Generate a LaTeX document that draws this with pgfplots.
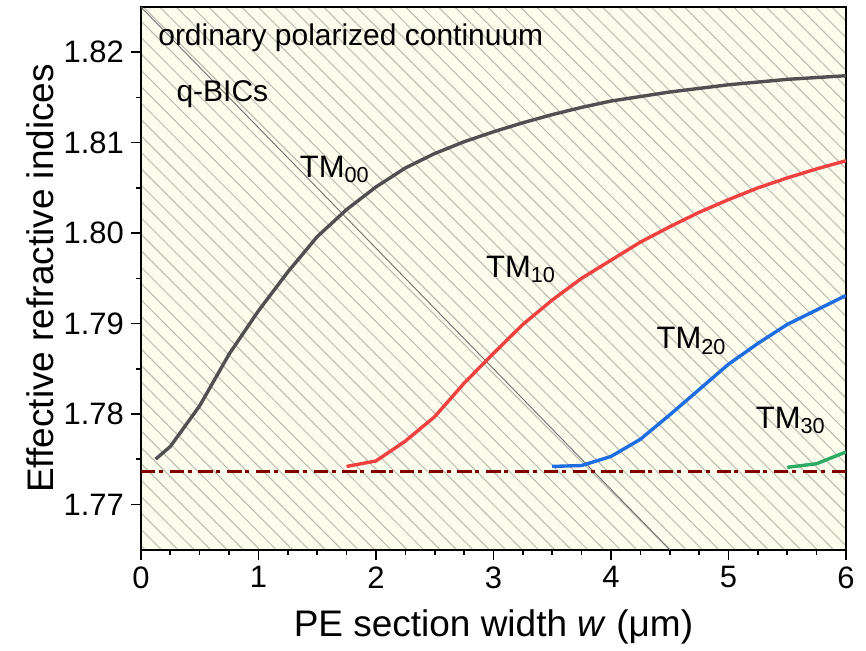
\documentclass[border=0pt]{standalone}
\usepackage{fontspec}
\setmainfont{Liberation Sans}
\usepackage{pgfplots}
\pgfplotsset{compat=1.18}
\usetikzlibrary{patterns.meta}
\definecolor{bgcol}{RGB}{253,253,238}
\definecolor{hatchcol}{RGB}{185,185,175}
\definecolor{qbiccol}{RGB}{110,110,110}
\definecolor{tmzero}{RGB}{80,80,80}
\definecolor{tmone}{RGB}{240,65,65}
\definecolor{tmtwo}{RGB}{30,110,225}
\definecolor{tmthree}{RGB}{45,170,100}
\definecolor{cutcol}{RGB}{128,0,0}
\begin{document}
\begin{tikzpicture}
\begin{axis}[
  scale only axis, width=352.8pt, height=271.5pt,
  xmin=0, xmax=6, ymin=1.765, ymax=1.825,
  xtick={0,1,2,3,4,5,6}, minor x tick num=3,
  ytick={1.77,1.78,1.79,1.80,1.81,1.82}, minor y tick num=1,
  tick align=outside, xtick pos=bottom, ytick pos=left,
  major tick length=5pt, minor tick length=2.5pt,
  every tick/.style={black, line width=0.8pt},
  axis line style={line width=0.9pt},
  tick label style={font=\fontsize{15.5}{18}\selectfont},
  /pgf/number format/assume math mode=true,
  yticklabel style={/pgf/number format/.cd, fixed, fixed zerofill, precision=2},
  xlabel={PE section width \textit{w} (μm)},
  ylabel={Effective refractive indices},
  label style={font=\fontsize{18.5}{22}\selectfont},
  xlabel style={at={(axis description cs:0.5,-0.142)}, anchor=center},
  ylabel style={at={(axis description cs:-0.143,0.5)}, anchor=center},
  axis background/.style={fill=bgcol, postaction={pattern={Lines[angle=-45,distance=5.8pt,line width=0.5pt]}, pattern color=hatchcol}},
  clip=true,
]
\addplot[qbiccol, line width=0.45pt] coordinates {(0,1.825) (4.5,1.765)};
\addplot[cutcol, line width=1.6pt, dash pattern=on 7.2pt off 1.8pt on 2pt off 3.4pt] coordinates {(0,1.7736) (6,1.7736)};
\addplot[tmzero, line width=1.7pt] coordinates {
(0.125,1.7750) (0.25,1.7764) (0.5,1.7809) (0.75,1.7866) (1.0,1.7914)
(1.25,1.7957) (1.5,1.7996) (1.75,1.8026) (2.0,1.8051) (2.25,1.8072)
(2.5,1.8088) (2.75,1.8101) (3.0,1.8112) (3.25,1.8122) (3.5,1.8131)
(3.75,1.8139) (4.0,1.8146) (4.25,1.8151) (4.5,1.8156) (4.75,1.8160)
(5.0,1.8164) (5.25,1.8167) (5.5,1.8170) (5.75,1.8172) (6.0,1.8174)};
\addplot[tmone, line width=1.7pt] coordinates {
(1.75,1.7742) (2.0,1.7748) (2.25,1.7770) (2.5,1.7797) (2.75,1.7834)
(3.0,1.7867) (3.25,1.7899) (3.5,1.7926) (3.75,1.7950) (4.0,1.7970)
(4.25,1.7990) (4.5,1.8007) (4.75,1.8023) (5.0,1.8037) (5.25,1.8050)
(5.5,1.8061) (5.75,1.8071) (6.0,1.8080)};
\addplot[tmtwo, line width=1.7pt] coordinates {
(3.5,1.7742) (3.75,1.7743) (4.0,1.7753) (4.25,1.7772) (4.5,1.7799)
(4.75,1.7827) (5.0,1.7855) (5.25,1.7878) (5.5,1.7899) (5.75,1.7915)
(6.0,1.7931)};
\addplot[tmthree, line width=1.7pt] coordinates {
(5.5,1.7741) (5.75,1.7745) (6.0,1.7758)};
\node[anchor=base west, inner sep=0pt, font=\fontsize{15}{18}\selectfont] at (axis cs:0.145,1.8207) {ordinary polarized continuum};
\node[anchor=base west, inner sep=0pt, font=\fontsize{15}{18}\selectfont] at (axis cs:0.30,1.8145) {q-BICs};
\node[anchor=base west, inner sep=0pt, font=\fontsize{15.5}{18}\selectfont] at (axis cs:1.35,1.8062) {TM\textsubscript{00}};
\node[anchor=base west, inner sep=0pt, font=\fontsize{15.5}{18}\selectfont] at (axis cs:2.934,1.7951) {TM\textsubscript{10}};
\node[anchor=base west, inner sep=0pt, font=\fontsize{15.5}{18}\selectfont] at (axis cs:4.385,1.7872) {TM\textsubscript{20}};
\node[anchor=base west, inner sep=0pt, font=\fontsize{15.5}{18}\selectfont] at (axis cs:5.23,1.7784) {TM\textsubscript{30}};
\end{axis}
\path ([xshift=-70.5pt,yshift=-48pt]current axis.south west) rectangle ([xshift=10pt,yshift=3.5pt]current axis.north east);
\end{tikzpicture}
\end{document}
